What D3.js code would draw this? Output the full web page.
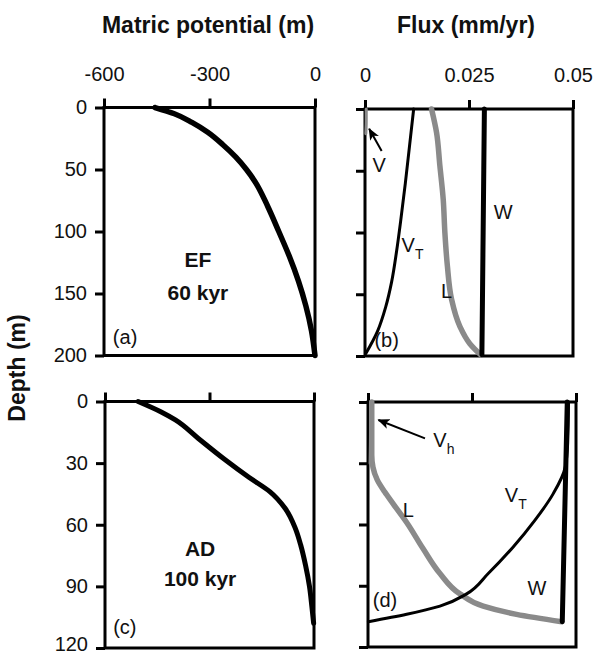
<!DOCTYPE html>
<html>
<head>
<meta charset="utf-8">
<script src="https://cdn.jsdelivr.net/npm/d3@7"></script>
<style>
  html, body { margin: 0; padding: 0; background: #fff; }
  svg { display: block; }
  text { font-family: 'Liberation Sans', Arial, sans-serif; fill: #111; }
</style>
</head>
<body>
<svg id="chart" width="595" height="653"></svg>
<script>
// ── Ticks ────────────────────────────────────────────
const matricTicks  = [-600, -300, 0];
const fluxTicks    = [0, 0.025, 0.05];
const depthTicksEF = [0, 50, 100, 150, 200];
const depthTicksAD = [0, 30, 60, 90, 120];

// ── (a) EF, 60 kyr: matric potential (m) vs depth (m)
const efDepth  = [0, 5, 12, 20, 30, 40, 50, 60, 80, 100, 120, 140, 160, 180, 200];
const efMatric = [-455, -400, -350, -305, -262, -225, -195, -170, -134, -103, -73, -47, -26, -10, 0];

// ── (c) AD, 100 kyr
const adDepth  = [0, 5, 9, 18, 28, 37, 44, 52, 62, 70, 80, 90, 100, 108];
const adMatric = [-505, -440, -398, -332, -258, -186, -126, -83, -53, -38, -24, -13, -6, -1];

// ── (b) EF fluxes (mm/yr)
const bDepthV  = [0, 10, 20];
const bFluxV   = [0.0003, 0.0003, 0.0002];
const bDepthVT = [0, 30, 60, 90, 115, 140, 160, 180, 198];
const bFluxVT  = [0.0117, 0.0107, 0.0097, 0.0086, 0.0076, 0.0064, 0.0050, 0.0030, 0.0002];
const bDepthL  = [0, 19, 46, 73, 100, 127, 154, 176, 190, 199];
const bFluxL   = [0.0160, 0.0172, 0.0180, 0.0188, 0.0192, 0.0198, 0.0208, 0.0228, 0.0252, 0.0278];
const bDepthW  = [0, 100, 199];
const bFluxW   = [0.0287, 0.0284, 0.0281];

// ── (d) AD fluxes (mm/yr)
const dDepthVh = [0, 15, 30];
const dFluxVh  = [0.0006, 0.0006, 0.0005];
const dDepthL  = [0, 26, 32, 38, 44, 50, 59, 72, 84, 94, 100, 104, 107.6];
const dFluxL   = [0.0009, 0.0009, 0.0012, 0.0022, 0.0040, 0.0061, 0.0093, 0.0133, 0.0173, 0.0221, 0.0277, 0.0357, 0.0466];
const dDepthVT = [0, 20, 32, 45, 58, 71, 84, 94, 100, 104, 107.6];
const dFluxVT  = [0.0482, 0.0480, 0.0474, 0.0445, 0.0401, 0.0349, 0.0289, 0.0237, 0.0173, 0.0093, 0.0001];
const dDepthW  = [0, 107.6];
const dFluxW   = [0.0479, 0.0467];

const zip = (ds, vs) => ds.map((d, i) => [d, vs[i]]);
const fmt = d => String(d);
const GRAY = '#8a8a8a';

const svg = d3.select('#chart');
svg.append('rect').attr('width', 595).attr('height', 653).attr('fill', '#fff');

const defs = svg.append('defs');
defs.append('marker')
  .attr('id', 'arrow').attr('markerUnits', 'userSpaceOnUse')
  .attr('viewBox', '0 0 12 10').attr('refX', 11).attr('refY', 5)
  .attr('markerWidth', 12).attr('markerHeight', 10).attr('orient', 'auto')
  .append('path').attr('d', 'M0,0 L12,5 L0,10 L3,5 Z').attr('fill', '#000');

// ── Titles ───────────────────────────────────────────
svg.append('text').attr('x', 208).attr('y', 33).attr('text-anchor', 'middle')
  .attr('font-size', 23).attr('font-weight', 'bold').text('Matric potential (m)');
svg.append('text').attr('x', 466).attr('y', 33).attr('text-anchor', 'middle')
  .attr('font-size', 23).attr('font-weight', 'bold').text('Flux (mm/yr)');
svg.append('text').attr('transform', 'translate(25,368) rotate(-90)').attr('text-anchor', 'middle')
  .attr('font-size', 23).attr('font-weight', 'bold').text('Depth (m)');

// ── Panels ───────────────────────────────────────────
const panels = [
  { id: 'a', xr: [104, 315], yr: [107.5, 355.5], xDom: [-600, 0], yDom: [0, 200],
    xTicks: matricTicks, yTicks: depthTicksEF, xLab: true, yLab: true },
  { id: 'b', xr: [365, 573], yr: [109, 356], xDom: [0, 0.05], yDom: [0, 200],
    xTicks: fluxTicks, yTicks: depthTicksEF, xLab: true, yLab: false },
  { id: 'c', xr: [105, 314], yr: [401.5, 648], xDom: [-600, 0], yDom: [0, 120],
    xTicks: matricTicks, yTicks: depthTicksAD, xLab: false, yLab: true },
  { id: 'd', xr: [368, 576], yr: [402, 647], xDom: [0, 0.05], yDom: [0, 120],
    xTicks: fluxTicks, yTicks: depthTicksAD, xLab: false, yLab: false },
];

const P = {};
panels.forEach(p => {
  const x = d3.scaleLinear().domain(p.xDom).range(p.xr);
  const y = d3.scaleLinear().domain(p.yDom).range(p.yr);
  const g = svg.append('g');
  P[p.id] = { x, y, g };

  const gx = g.append('g').attr('transform', `translate(0,${p.yr[0]})`)
    .call(d3.axisTop(x).tickValues(p.xTicks).tickSize(9).tickPadding(18)
      .tickFormat(p.xLab ? fmt : ''));
  const gy = g.append('g').attr('transform', `translate(${p.xr[0]},0)`)
    .call(d3.axisLeft(y).tickValues(p.yTicks).tickSize(9).tickPadding(8)
      .tickFormat(p.yLab ? fmt : ''));
  [gx, gy].forEach(a => {
    a.select('.domain').remove();
    a.selectAll('line').attr('stroke', '#000').attr('stroke-width', 3);
    a.attr('font-size', 20).attr('font-family', "'Liberation Sans', Arial, sans-serif");
    a.selectAll('text').attr('fill', '#111');
  });
  // bottom tick label sits on the picture's lower edge; lift it just inside
  gy.selectAll('.tick text').filter(d => d === 120).attr('dy', '0.1em');

  g.append('rect')
    .attr('x', p.xr[0]).attr('y', p.yr[0])
    .attr('width', p.xr[1] - p.xr[0]).attr('height', p.yr[1] - p.yr[0])
    .attr('fill', 'none').attr('stroke', '#000').attr('stroke-width', 3);
});

function drawLine(id, depth, vals, color, width) {
  const { x, y, g } = P[id];
  const line = d3.line().x(d => x(d[1])).y(d => y(d[0])).curve(d3.curveMonotoneY);
  g.append('path').datum(zip(depth, vals)).attr('d', line)
    .attr('fill', 'none').attr('stroke', color).attr('stroke-width', width)
    .attr('stroke-linecap', 'round').attr('stroke-linejoin', 'round');
}

function label(id, v, dep, txt, opts = {}) {
  const { x, y, g } = P[id];
  const t = g.append('text').attr('x', x(v)).attr('y', y(dep))
    .attr('dy', '0.35em').attr('font-size', opts.size || 20)
    .attr('font-weight', opts.bold ? 'bold' : 'normal')
    .attr('text-anchor', opts.anchor || 'middle');
  t.append('tspan').text(txt);
  if (opts.sub) t.append('tspan').attr('font-size', 14).attr('dy', 7).text(opts.sub);
}

function arrow(id, v0, d0, v1, d1) {
  const { x, y, g } = P[id];
  g.append('line').attr('x1', x(v0)).attr('y1', y(d0)).attr('x2', x(v1)).attr('y2', y(d1))
    .attr('stroke', '#000').attr('stroke-width', 2).attr('marker-end', 'url(#arrow)');
}

// (a)
drawLine('a', efDepth, efMatric, '#000', 5.5);
label('a', -333, 123, 'EF', { bold: true, size: 21 });
label('a', -333, 149, '60 kyr', { bold: true, size: 21 });
label('a', -540, 185, '(a)');

// (b)
drawLine('b', bDepthV, bFluxV, GRAY, 3);
drawLine('b', bDepthVT, bFluxVT, '#000', 3);
drawLine('b', bDepthL, bFluxL, GRAY, 5.5);
drawLine('b', bDepthW, bFluxW, '#000', 5);
arrow('b', 0.0040, 34, 0.0010, 16);
label('b', 0.0034, 45, 'V');
label('b', 0.0088, 110, 'V', { anchor: 'start', sub: 'T' });
label('b', 0.0196, 147, 'L');
label('b', 0.0332, 83, 'W');
label('b', 0.0052, 187, '(b)');

// (c)
drawLine('c', adDepth, adMatric, '#000', 5);
label('c', -327, 71.5, 'AD', { bold: true, size: 21 });
label('c', -327, 86, '100 kyr', { bold: true, size: 21 });
label('c', -543, 110, '(c)');

// (d)
drawLine('d', dDepthVh, dFluxVh, GRAY, 3);
drawLine('d', dDepthL, dFluxL, GRAY, 5.5);
drawLine('d', dDepthVT, dFluxVT, '#000', 3);
drawLine('d', dDepthW, dFluxW, '#000', 5);
arrow('d', 0.0137, 17.8, 0.0025, 8.8);
label('d', 0.0157, 18.6, 'V', { anchor: 'start', sub: 'h' });
label('d', 0.0097, 53, 'L');
label('d', 0.0329, 45.6, 'V', { anchor: 'start', sub: 'T' });
label('d', 0.0406, 91.3, 'W');
label('d', 0.0041, 97, '(d)');
</script>
</body>
</html>
